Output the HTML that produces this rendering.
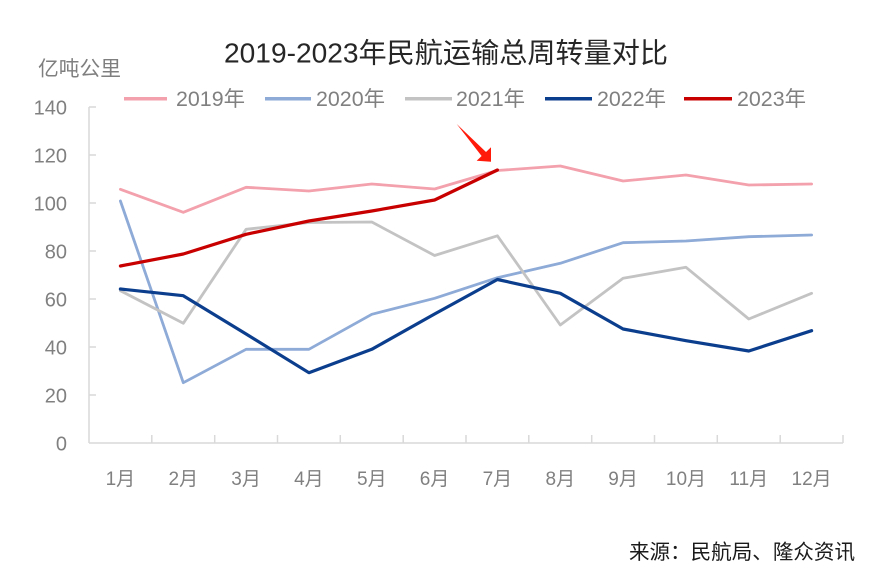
<!DOCTYPE html>
<html><head><meta charset="utf-8"><style>
html,body{margin:0;padding:0;background:#fff;}
svg{display:block;}
text{font-family:"Liberation Sans","Noto Sans CJK SC",sans-serif;}
</style></head><body>
<svg width="876" height="580" viewBox="0 0 876 580" xmlns="http://www.w3.org/2000/svg">
<rect width="876" height="580" fill="#fff"/>
<text x="446" y="62.5" font-size="28" fill="#262626" text-anchor="middle" textLength="444" lengthAdjust="spacingAndGlyphs">2019-2023年民航运输总周转量对比</text>
<text x="38" y="75.5" font-size="20.5" fill="#7f7f7f" textLength="83" lengthAdjust="spacingAndGlyphs">亿吨公里</text>
<!-- legend -->
<g stroke-width="3.5" fill="none">
<line x1="124" y1="98.7" x2="167" y2="98.7" stroke="#f3a1ac"/>
<line x1="265" y1="98.7" x2="311" y2="98.7" stroke="#8eaad7"/>
<line x1="405" y1="98.7" x2="452" y2="98.7" stroke="#c3c3c3"/>
<line x1="545" y1="98.7" x2="592" y2="98.7" stroke="#0c3e8e"/>
<line x1="684" y1="98.7" x2="732" y2="98.7" stroke="#c80000"/>
</g>
<g font-size="21" fill="#808080">
<text x="176" y="106" textLength="69" lengthAdjust="spacingAndGlyphs">2019年</text>
<text x="316" y="106" textLength="69" lengthAdjust="spacingAndGlyphs">2020年</text>
<text x="456" y="106" textLength="69" lengthAdjust="spacingAndGlyphs">2021年</text>
<text x="597" y="106" textLength="69" lengthAdjust="spacingAndGlyphs">2022年</text>
<text x="737" y="106" textLength="69" lengthAdjust="spacingAndGlyphs">2023年</text>
</g>
<!-- axes -->
<g stroke="#d9d9d9" stroke-width="1.5" fill="none">
<line x1="89" y1="107" x2="89" y2="443"/>
<line x1="89" y1="443" x2="843" y2="443"/>
<line x1="89" y1="107" x2="96" y2="107"/>
<line x1="89" y1="155" x2="96" y2="155"/>
<line x1="89" y1="203" x2="96" y2="203"/>
<line x1="89" y1="251" x2="96" y2="251"/>
<line x1="89" y1="299" x2="96" y2="299"/>
<line x1="89" y1="347" x2="96" y2="347"/>
<line x1="89" y1="395" x2="96" y2="395"/>
<line x1="151.8" y1="435" x2="151.8" y2="443"/>
<line x1="214.7" y1="435" x2="214.7" y2="443"/>
<line x1="277.5" y1="435" x2="277.5" y2="443"/>
<line x1="340.3" y1="435" x2="340.3" y2="443"/>
<line x1="403.2" y1="435" x2="403.2" y2="443"/>
<line x1="466" y1="435" x2="466" y2="443"/>
<line x1="528.8" y1="435" x2="528.8" y2="443"/>
<line x1="591.7" y1="435" x2="591.7" y2="443"/>
<line x1="654.5" y1="435" x2="654.5" y2="443"/>
<line x1="717.3" y1="435" x2="717.3" y2="443"/>
<line x1="780.2" y1="435" x2="780.2" y2="443"/>
<line x1="843" y1="435" x2="843" y2="443"/>
</g>
<g font-size="20" fill="#808080" text-anchor="end">
<text x="67" y="114.5">140</text>
<text x="67" y="162.5">120</text>
<text x="67" y="210.5">100</text>
<text x="67" y="258.5">80</text>
<text x="67" y="306.5">60</text>
<text x="67" y="354.5">40</text>
<text x="67" y="402.5">20</text>
<text x="67" y="450.5">0</text>
</g>
<g font-size="19" fill="#808080" text-anchor="middle">
<text x="120.4" y="485">1月</text>
<text x="183.3" y="485">2月</text>
<text x="246.1" y="485">3月</text>
<text x="308.9" y="485">4月</text>
<text x="371.8" y="485">5月</text>
<text x="434.6" y="485">6月</text>
<text x="497.4" y="485">7月</text>
<text x="560.3" y="485">8月</text>
<text x="623.1" y="485">9月</text>
<text x="686" y="485">10月</text>
<text x="748.8" y="485">11月</text>
<text x="811.6" y="485">12月</text>
</g>
<!-- series -->
<g fill="none" stroke-linejoin="round" stroke-linecap="round">
<polyline stroke="#f3a1ac" stroke-width="2.8" points="120.4,189.3 183.3,212.3 246.1,187.3 308.9,191 371.8,184 434.6,189 497.4,170.5 560.3,166 623.1,181 686,175 748.8,185 811.6,184"/>
<polyline stroke="#8eaad7" stroke-width="2.8" points="120.4,201 183.3,382.7 246.1,349.3 308.9,349.3 371.8,314.3 434.6,298.3 497.4,277.7 560.3,263.3 623.1,242.7 686,241 748.8,236.7 811.6,235"/>
<polyline stroke="#c3c3c3" stroke-width="2.8" points="120.4,290.7 183.3,323.3 246.1,229.3 308.9,222.5 371.8,222 434.6,255.5 497.4,235.8 560.3,325 623.1,278.3 686,267.3 748.8,319 811.6,293.3"/>
<polyline stroke="#0c3e8e" stroke-width="3.2" points="120.4,289 183.3,295.7 246.1,334 308.9,372.7 371.8,349.3 434.6,314 497.4,279.5 560.3,293.3 623.1,329 686,340.7 748.8,351 811.6,330.7"/>
<polyline stroke="#c80000" stroke-width="3.2" points="120.4,266 183.3,254 246.1,234.3 308.9,221 371.8,211 434.6,200 497.4,170"/>
</g>
<!-- arrow -->
<polygon fill="#ff1a0a" points="456.7,124 486,152 491,147.3 491,161.7 476.7,160.7 481.6,156"/>
<text x="629" y="559" font-size="20.5" fill="#1a1a1a" textLength="226" lengthAdjust="spacingAndGlyphs">来源：民航局、隆众资讯</text>
</svg>
</body></html>
